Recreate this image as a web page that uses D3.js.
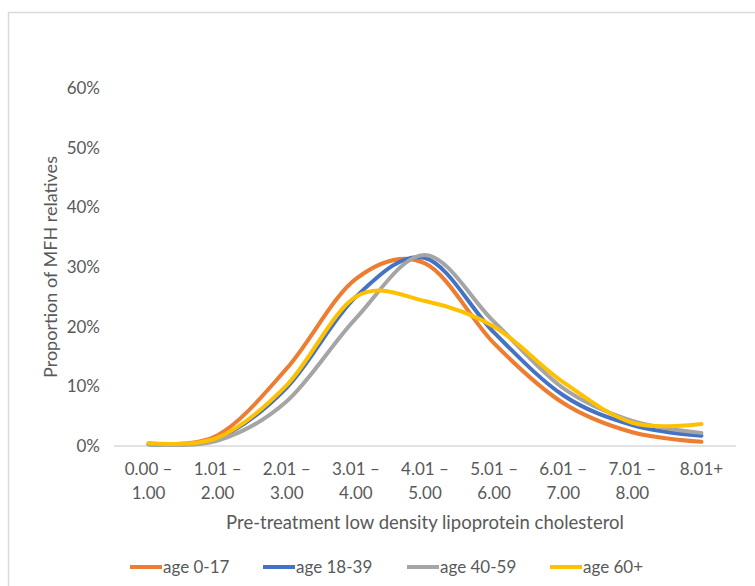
<!DOCTYPE html>
<html>
<head>
<meta charset="utf-8">
<script src="https://cdn.jsdelivr.net/npm/d3@7"></script>
<style>
  body { margin: 0; background: #fff; }
  svg text { font-family: Lato, 'Open Sans', sans-serif; fill: #595959; }
</style>
</head>
<body>
<div id="chart"></div>
<script>
// LDL bands on the x axis
const categories = ['0.00 – 1.00', '1.01 – 2.00', '2.01 – 3.00', '3.01 – 4.00', '4.01 – 5.00',
  '5.01 – 6.00', '6.01 – 7.00', '7.01 – 8.00', '8.01+'];

// proportion of relatives (%) per age group
const age0to17 = [0.4, 1.8, 13.0, 28.0, 30.6, 17.2, 7.2, 2.3, 0.7];
const age18to39 = [0.3, 1.3, 9.8, 25.0, 31.5, 19.0, 8.5, 3.5, 1.7];
const age40to59 = [0.3, 0.9, 7.5, 21.4, 32.0, 20.8, 9.7, 4.2, 2.2];
const age60plus = [0.5, 1.4, 10.2, 25.0, 24.3, 20.0, 10.7, 3.9, 3.7];

const seriesNames = ['age 0-17', 'age 18-39', 'age 40-59', 'age 60+'];
const yTicks = [0, 10, 20, 30, 40, 50, 60];

const series = [
  { name: seriesNames[0], values: age0to17, color: '#ED7D31' },
  { name: seriesNames[1], values: age18to39, color: '#4472C4' },
  { name: seriesNames[2], values: age40to59, color: '#A5A5A5' },
  { name: seriesNames[3], values: age60plus, color: '#FFC000' },
];

const width = 755, height = 586;
const margin = { top: 88, right: 19, bottom: 140, left: 114 };

const svg = d3.select('#chart').append('svg')
  .attr('width', width)
  .attr('height', height);

// chart frame (cropped on the right and bottom)
svg.append('rect')
  .attr('x', 8.5).attr('y', 12.5)
  .attr('width', 800).attr('height', 700)
  .attr('fill', 'none')
  .attr('stroke', '#d9d9d9')
  .attr('stroke-width', 1.5);

const x = d3.scaleBand()
  .domain(categories)
  .range([margin.left, width - margin.right]);

const y = d3.scaleLinear()
  .domain([0, 60])
  .range([height - margin.bottom, margin.top]);

// y tick labels (no gridlines)
svg.append('g').selectAll('text')
  .data(yTicks)
  .join('text')
  .attr('x', 100)
  .attr('y', d => y(d))
  .attr('dy', '0.35em')
  .attr('text-anchor', 'end')
  .style('font-size', '17px')
  .text(d => d + '%');

// x axis line
svg.append('line')
  .attr('x1', margin.left).attr('x2', width - margin.right)
  .attr('y1', y(0)).attr('y2', y(0))
  .attr('stroke', '#d9d9d9')
  .attr('stroke-width', 1.5);

// two-line category labels
const xLabels = svg.append('g').selectAll('text')
  .data(categories)
  .join('text')
  .attr('text-anchor', 'middle')
  .style('font-size', '17px')
  .attr('transform', d => `translate(${x(d) + x.bandwidth() / 2},0)`);

xLabels.each(function(d) {
  const parts = d.includes('–') ? [d.split(' – ')[0] + ' –', d.split(' – ')[1]] : [d];
  d3.select(this).selectAll('tspan')
    .data(parts)
    .join('tspan')
    .attr('x', 0)
    .attr('y', (p, i) => 475 + i * 24)
    .text(p => p);
});

// axis titles
svg.append('text')
  .attr('x', 425).attr('y', 529)
  .attr('text-anchor', 'middle')
  .style('font-size', '18.5px')
  .text('Pre-treatment low density lipoprotein cholesterol');

svg.append('text')
  .attr('transform', `translate(57,${(y(0) + y(60)) / 2}) rotate(-90)`)
  .attr('text-anchor', 'middle')
  .style('font-size', '18px')
  .text('Proportion of MFH relatives');

// smoothed lines like Excel
const line = d3.line()
  .x((d, i) => x(categories[i]) + x.bandwidth() / 2)
  .y(d => y(d))
  .curve(d3.curveCardinal.tension(0));

svg.append('g').selectAll('path')
  .data(series)
  .join('path')
  .attr('d', d => line(d.values))
  .attr('fill', 'none')
  .attr('stroke', d => d.color)
  .attr('stroke-width', 4)
  .attr('stroke-linecap', 'round');

// legend
const legendX = [130, 263, 407, 550];
const legend = svg.append('g').selectAll('g')
  .data(series)
  .join('g')
  .attr('transform', (d, i) => `translate(${legendX[i]},567)`);

legend.append('line')
  .attr('x1', 0).attr('x2', 32)
  .attr('stroke', d => d.color)
  .attr('stroke-width', 4);

legend.append('text')
  .attr('x', 33)
  .attr('dy', '0.35em')
  .style('font-size', '17px')
  .text(d => d.name);
</script>
</body>
</html>
